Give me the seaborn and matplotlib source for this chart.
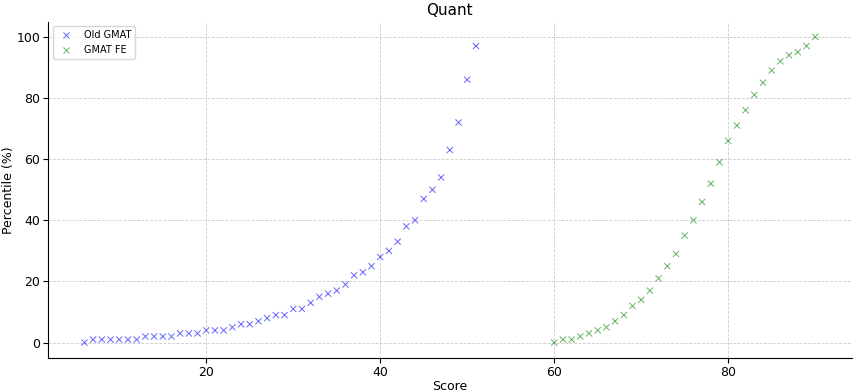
import numpy as np
import pandas as pd
import seaborn as sns
import matplotlib.pyplot as plt

# Old GMAT scores and percentiles
old_scores = list(range(6, 52))
old_pct = [0, 1, 1, 1, 1, 1, 1, 2, 2, 2, 2, 3, 3, 3, 4, 4, 4, 5, 6, 6,
           7, 8, 9, 9, 11, 11, 13, 15, 16, 17, 19, 22, 23, 25, 28, 30, 33, 38, 40, 47,
           50, 54, 63, 72, 86, 97]

# GMAT Focus Edition scores and percentiles
fe_scores = list(range(60, 91))
fe_pct = [0, 1, 1, 2, 3, 4, 5, 7, 9, 12, 14, 17, 21, 25, 29, 35, 40, 46, 52, 59,
          66, 71, 76, 81, 85, 89, 92, 94, 95, 97, 100]

df = pd.concat([
    pd.DataFrame({'Score': old_scores, 'Percentile': old_pct, 'Exam': 'Old GMAT'}),
    pd.DataFrame({'Score': fe_scores, 'Percentile': fe_pct, 'Exam': 'GMAT FE'}),
])

plt.rcParams['font.family'] = ['DejaVu Sans']
fig, ax = plt.subplots(figsize=(8.56, 3.92), dpi=100)
sns.scatterplot(data=df, x='Score', y='Percentile', hue='Exam', style='Exam',
                markers={'Old GMAT': 'x', 'GMAT FE': 'x'},
                palette={'Old GMAT': 'blue', 'GMAT FE': 'green'},
                alpha=0.6, s=20, linewidth=0.7, ax=ax)

ax.set_title('Quant', fontsize=11, pad=5)
ax.set_xlabel('Score', fontsize=9, labelpad=1)
ax.set_ylabel('Percentile (%)', fontsize=9, labelpad=1)
ax.tick_params(labelsize=9, pad=2)
ax.grid(True, linestyle='--', color='#cccccc', linewidth=0.6)
ax.set_axisbelow(True)
sns.despine(ax=ax)
ax.legend(loc='upper left', fontsize=7, title=None)

plt.subplots_adjust(left=0.056, right=0.995, top=0.945, bottom=0.087)
plt.savefig('out.png', dpi=100)
